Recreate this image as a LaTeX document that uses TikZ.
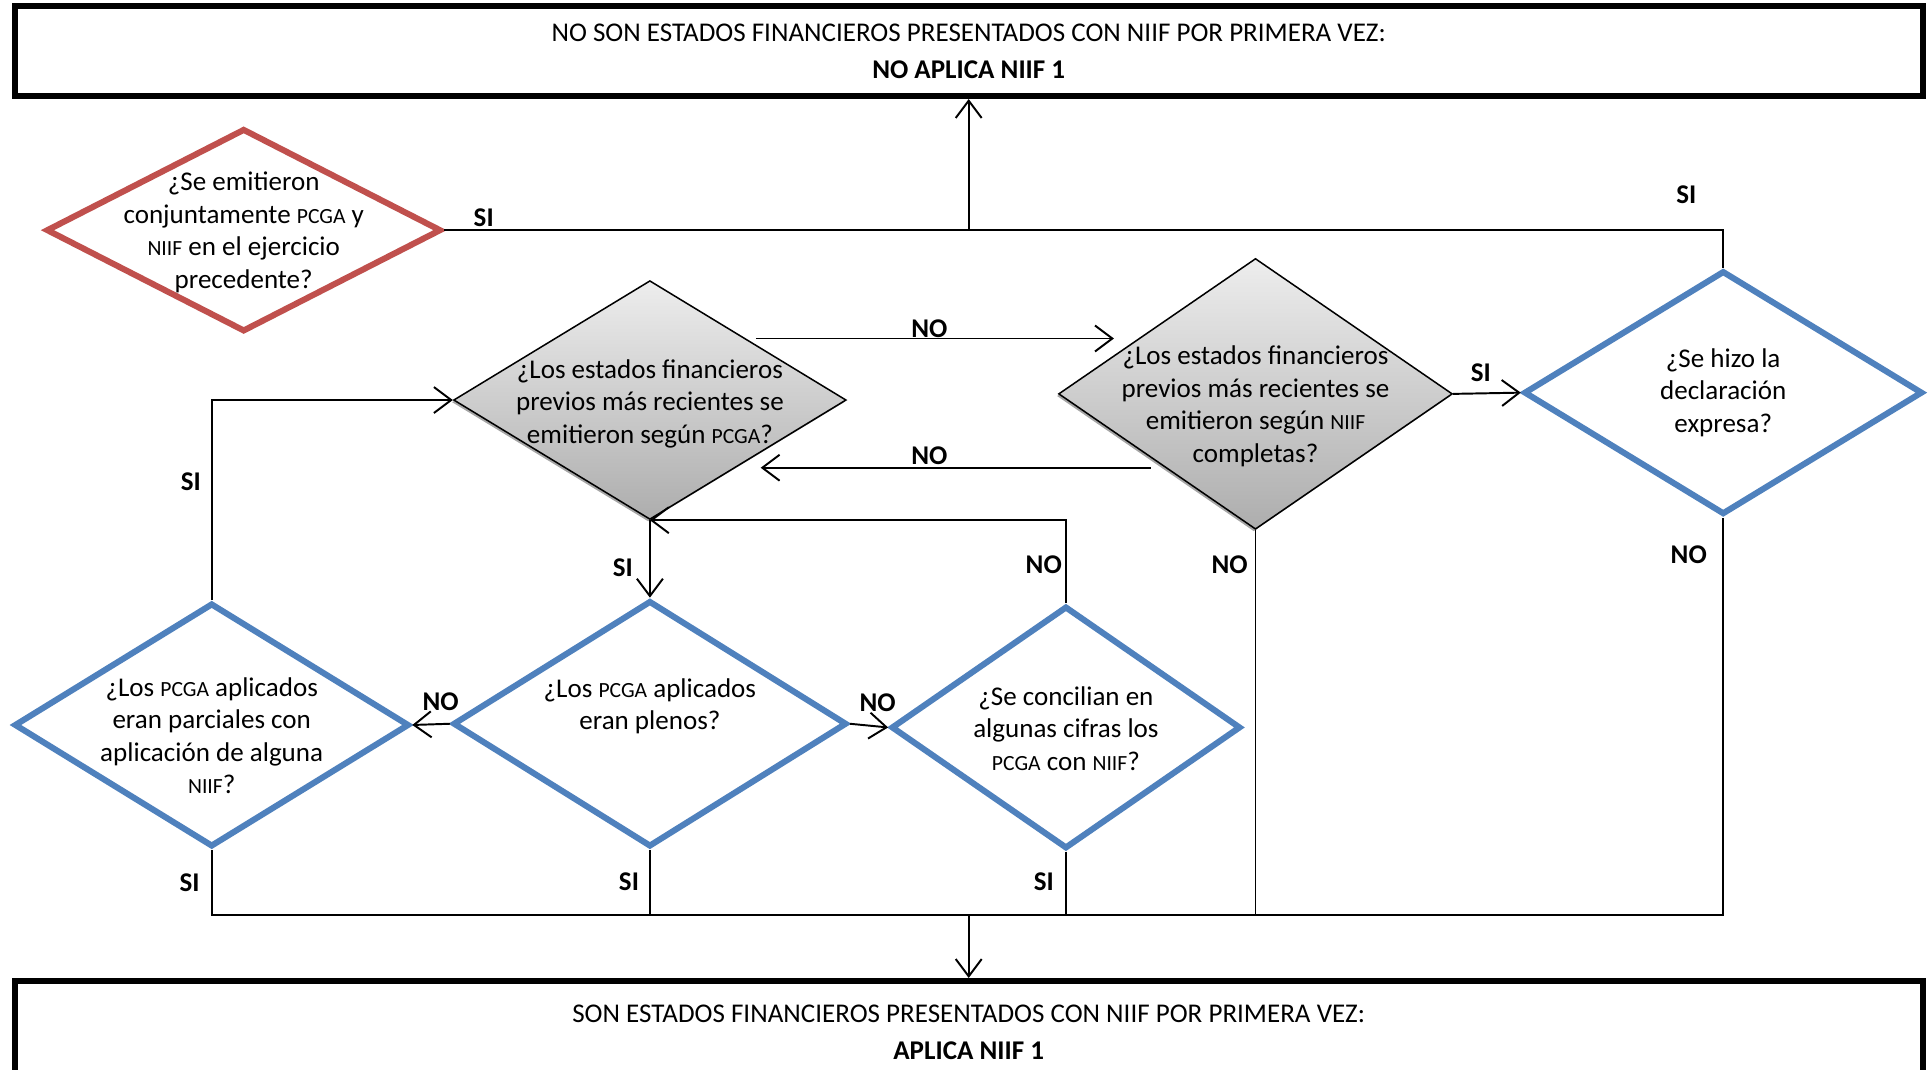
\documentclass[tikz,border=0pt]{standalone}
\usepackage{fontspec}
\setmainfont{Carlito}
\usetikzlibrary{shapes.geometric,arrows.meta,shadows,calc}
\definecolor{dblue}{HTML}{4F81BD}
\definecolor{dred}{HTML}{C0504D}
\newcommand{\ab}[1]{{\fontsize{10}{11}\selectfont #1}}
\tikzset{
  conn/.style={line width=0.9pt},
  arr/.style={conn,-{Straight Barb[length=8pt,width=12pt,line width=0.9pt]}},
  dtext/.style={font=\fontsize{12.5}{15}\selectfont, align=center, inner sep=0pt},
  bluedia/.style={diamond, draw=dblue, line width=2.8pt, inner sep=0pt, fill=white},
  reddia/.style={diamond, draw=dred, line width=2.8pt, inner sep=0pt, fill=white},
  graydia/.style={diamond, draw=black, line width=0.7pt, inner sep=0pt,
     top color=black!7, bottom color=black!32,
     drop shadow={shadow xshift=-0.8pt, shadow yshift=-1pt, fill=black!70, opacity=0.5}},
  yn/.style={font=\fontsize{12.5}{14}\selectfont\bfseries, inner sep=0pt},
  bigbox/.style={draw, line width=2.8pt, align=center, inner sep=0pt,
     font=\fontsize{12.5}{17}\selectfont},
}
\begin{document}
\begin{tikzpicture}[x=0.2mm, y=-0.2mm]
\useasboundingbox (0,0) rectangle (1568,868.5);

% boxes
\node[bigbox, minimum width=1550*0.2mm, minimum height=73*0.2mm] (top) at (787,41.5)
  {NO SON ESTADOS FINANCIEROS PRESENTADOS CON NIIF POR PRIMERA VEZ:\\ \textbf{NO APLICA NIIF 1}};
\node[bigbox, minimum width=1550*0.2mm, minimum height=83*0.2mm] (bot) at (787,838.5)
  {SON ESTADOS FINANCIEROS PRESENTADOS CON NIIF POR PRIMERA VEZ:\\ \textbf{APLICA NIIF 1}};

% diamonds
\node[reddia, minimum width=321*0.2mm, minimum height=165*0.2mm,
  label={[dtext, yshift=-1pt]center:{¿Se emitieron\\conjuntamente \ab{PCGA} y\\\ab{NIIF} en el ejercicio\\precedente?}}] (q0) at (198,187) {};
\node[graydia, minimum width=319*0.2mm, minimum height=194*0.2mm,
  label={[dtext, yshift=-1.7pt]center:{¿Los estados financieros\\previos más recientes se\\emitieron según \ab{PCGA}?}}] (g1) at (528,325) {};
\node[graydia, minimum width=320*0.2mm, minimum height=220*0.2mm,
  label={[dtext, yshift=-5.7pt]center:{¿Los estados financieros\\previos más recientes se\\emitieron según \ab{NIIF}\\completas?}}] (g2) at (1020,320) {};
\node[bluedia, minimum width=324*0.2mm, minimum height=198*0.2mm,
  label={[dtext]center:{¿Se hizo la\\declaración\\expresa?}}] (b4) at (1400,319) {};
\node[bluedia, minimum width=320*0.2mm, minimum height=200*0.2mm,
  label={[dtext, yshift=8pt]center:{¿Los \ab{PCGA} aplicados\\eran plenos?}}] (b1) at (528,588) {};
\node[bluedia, minimum width=321*0.2mm, minimum height=198*0.2mm,
  label={[dtext, yshift=-5pt]center:{¿Los \ab{PCGA} aplicados\\eran parciales con\\aplicación de alguna\\\ab{NIIF}?}}] (b2) at (172,589) {};
\node[bluedia, minimum width=284*0.2mm, minimum height=197*0.2mm,
  label={[dtext, yshift=-0.5pt]center:{¿Se concilian en\\algunas cifras los\\\ab{PCGA} con \ab{NIIF}?}}] (b3) at (866,591) {};

% junctions
\coordinate (jt) at (787,187);
\coordinate (jb) at (787,743);
\coordinate (n1s) at (614,275);
\coordinate (n1e) at (905,275);
\coordinate (n2s) at (935,380);
\coordinate (n2e) at (618,380);

% connectors
\draw[conn] (q0.east) -- (jt);
\draw[conn] (b4.north) |- (jt);
\draw[arr] (jt) -- (top.south);
\draw[arr] (n1s) -- (n1e);
\draw[arr] (n2s) -- (n2e);
\draw[arr] (g2.east) -- (b4.west);
\draw[arr] (g1.south) -- (b1.north);
\draw[arr] (b3.north) |- (g1.south);
\draw[arr] (b1.west) -- (b2.east);
\draw[arr] (b1.east) -- (b3.west);
\draw[arr] (b2.north) |- (g1.west);
\draw[conn] (b2.south) |- (jb) -| (b4.south);
\draw[conn] (b1.south) -- (b1.south|-jb);
\draw[conn] (b3.south) -- (b3.south|-jb);
\draw[conn] (g2.south) -- (g2.south|-jb);
\draw[arr] (jb) -- (bot.north);

% labels
\node[yn] (l1) at (393,177) {SI};
\node[yn] (l2) at (1370,158) {SI};
\node[yn] (l3) at (755,267) {NO};
\node[yn] (l4) at (755,370) {NO};
\node[yn] (l5) at (1203,303) {SI};
\node[yn] (l6) at (506,461) {SI};
\node[yn] (l7) at (848,459) {NO};
\node[yn] (l8) at (999,459) {NO};
\node[yn] (l9) at (1372,451) {NO};
\node[yn] (l10) at (155,391) {SI};
\node[yn] (l11) at (358,570) {NO};
\node[yn] (l12) at (713,571) {NO};
\node[yn] (l13) at (154,717) {SI};
\node[yn] (l14) at (511,716) {SI};
\node[yn] (l15) at (848,716) {SI};
\end{tikzpicture}
\end{document}
